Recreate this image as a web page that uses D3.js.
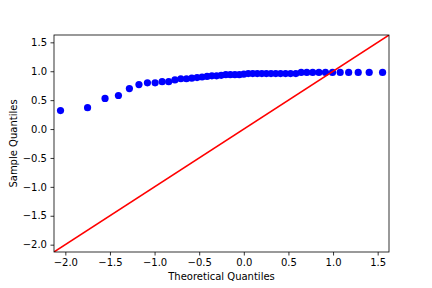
<!DOCTYPE html>
<html><head><meta charset="utf-8">
<script src="https://cdn.jsdelivr.net/npm/d3@7"></script>
<style>body{margin:0;background:#fff}svg{display:block}text{font-family:"DejaVu Sans",sans-serif}</style>
</head><body><svg id="c" width="432" height="288"></svg>
<script>
const theoretical = [-2.054,-1.751,-1.555,-1.405,-1.282,-1.175,-1.080,-0.994,-0.915,-0.842,
 -0.772,-0.706,-0.643,-0.583,-0.524,-0.468,-0.412,-0.358,-0.305,-0.253,
 -0.202,-0.151,-0.100,-0.050,0.000,0.050,0.100,0.151,0.202,0.253,
 0.305,0.358,0.412,0.468,0.524,0.583,0.643,0.706,0.772,0.842,
 0.915,0.994,1.080,1.175,1.282,1.405,1.555];
const sample = [0.32,0.37,0.53,0.58,0.70,0.77,0.80,0.80,0.82,0.82,
 0.85,0.87,0.87,0.88,0.89,0.90,0.91,0.92,0.92,0.93,
 0.94,0.94,0.94,0.94,0.95,0.96,0.96,0.96,0.96,0.96,
 0.96,0.96,0.96,0.96,0.96,0.96,0.98,0.98,0.98,0.98,
 0.98,0.98,0.98,0.98,0.98,0.98,0.98];
const xTicks = [-2.0,-1.5,-1.0,-0.5,0.0,0.5,1.0,1.5];
const yTicks = [-2.0,-1.5,-1.0,-0.5,0.0,0.5,1.0,1.5];
const lim = [-2.127, 1.627];

const svg = d3.select("#c");
const L=54, R=389, T=35, B=252;
const x = d3.scaleLinear().domain(lim).range([L,R]);
const y = d3.scaleLinear().domain(lim).range([B,T]);
const fmt = d => d3.format(".1f")(d).replace("-", "\u2212");

svg.append("defs").append("clipPath").attr("id","clip")
  .append("rect").attr("x",L).attr("y",T).attr("width",R-L).attr("height",B-T);

const g = svg.append("g").attr("clip-path","url(#clip)");
g.selectAll("circle").data(theoretical).enter().append("circle")
  .attr("cx",(d)=>x(d)).attr("cy",(d,i)=>y(sample[i])).attr("r",3.6).attr("fill","#0000ff");
g.append("line").attr("x1",x(lim[0])).attr("y1",y(lim[0])).attr("x2",x(lim[1])).attr("y2",y(lim[1]))
  .attr("stroke","#ff0000").attr("stroke-width",1.5);

const xa = svg.append("g").attr("transform",`translate(0,${B})`)
  .call(d3.axisBottom(x).tickValues(xTicks).tickFormat(fmt).tickSize(3.5).tickPadding(3.5));
const ya = svg.append("g").attr("transform",`translate(${L},0)`)
  .call(d3.axisLeft(y).tickValues(yTicks).tickFormat(fmt).tickSize(3.5).tickPadding(3.5));
[xa,ya].forEach(a=>{a.select(".domain").remove();a.selectAll("text").attr("font-size",10).attr("fill","#000").attr("font-family","DejaVu Sans");a.selectAll("line").attr("stroke","#000").attr("stroke-width",0.8);});

svg.append("rect").attr("x",L).attr("y",T).attr("width",R-L).attr("height",B-T)
  .attr("fill","none").attr("stroke","#000").attr("stroke-width",0.8);

svg.append("text").attr("x",(L+R)/2).attr("y",280).attr("text-anchor","middle").attr("font-size",10).text("Theoretical Quantiles");
svg.append("text").attr("transform",`translate(17,${(T+B)/2}) rotate(-90)`).attr("text-anchor","middle").attr("font-size",10).text("Sample Quantiles");
</script></body></html>
